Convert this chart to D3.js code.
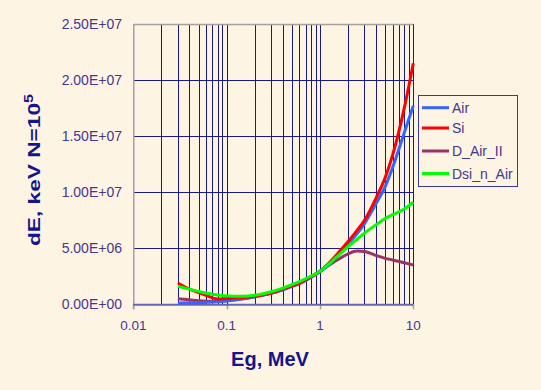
<!DOCTYPE html>
<html>
<head>
<meta charset="utf-8">
<script src="https://cdn.jsdelivr.net/npm/d3@7"></script>
<style>
  html, body { margin: 0; padding: 0; background: #FEF4E4; }
  svg { display: block; }
  text { font-family: Arial, "Liberation Sans", sans-serif; }
</style>
</head>
<body>
<svg id="chart" width="541" height="390"></svg>
<script>
// ---- data (values in keV, energies in MeV) ----
const energies = [0.03, 0.04, 0.05, 0.06, 0.08, 0.1, 0.15, 0.2, 0.3, 0.4, 0.5, 0.6, 0.8, 1, 1.5, 2, 2.5, 3, 4, 5, 6, 8, 10];
const airValues = [0.12e6, 0.13e6, 0.15e6, 0.17e6, 0.22e6, 0.3e6, 0.5e6, 0.68e6, 0.98e6, 1.3e6, 1.6e6, 1.85e6, 2.4e6, 2.9e6, 4.2e6, 5.4e6, 6.3e6, 7.2e6, 9.0e6, 10.5e6, 12.2e6, 15.3e6, 17.7e6];
const siValues = [1.9e6, 1.35e6, 1.05e6, 0.8e6, 0.48e6, 0.52e6, 0.6e6, 0.72e6, 1.0e6, 1.35e6, 1.65e6, 1.85e6, 2.45e6, 2.95e6, 4.4e6, 5.6e6, 6.6e6, 7.5e6, 9.5e6, 11.3e6, 13.3e6, 17.5e6, 21.5e6];
const dAirValues = [0.5e6, 0.4e6, 0.32e6, 0.28e6, 0.27e6, 0.33e6, 0.5e6, 0.68e6, 1.0e6, 1.32e6, 1.62e6, 1.9e6, 2.45e6, 2.95e6, 3.9e6, 4.5e6, 4.75e6, 4.7e6, 4.35e6, 4.1e6, 3.95e6, 3.7e6, 3.5e6];
const dsiValues = [1.6e6, 1.35e6, 1.15e6, 1.0e6, 0.82e6, 0.75e6, 0.72e6, 0.8e6, 1.12e6, 1.45e6, 1.75e6, 2.02e6, 2.5e6, 2.95e6, 4.2e6, 5.15e6, 5.8e6, 6.35e6, 7.1e6, 7.65e6, 8.0e6, 8.5e6, 9.1e6];
const seriesNames = ["Air", "Si", "D_Air_II", "Dsi_n_Air"];
const seriesColors = ["#3366FF", "#FF0000", "#993366", "#00FF00"];
const yTicks = [0, 5e6, 1e7, 1.5e7, 2e7, 2.5e7];
const yTickLabels = ["0.00E+00", "5.00E+06", "1.00E+07", "1.50E+07", "2.00E+07", "2.50E+07"];
const xTicks = [0.01, 0.1, 1, 10];
const xTickLabels = ["0.01", "0.1", "1", "10"];

const seriesValues = [airValues, siValues, dAirValues, dsiValues];
const drawOrder = [2, 0, 1, 3];

const svg = d3.select("#chart");
const W = 541, H = 390;
const pLeft = 133.3, pRight = 413.3, pTop = 24, pBottom = 304.3;

svg.append("rect").attr("width", W).attr("height", H).attr("fill", "#FEF4E4");

const x = d3.scaleLog().domain([0.01, 10]).range([pLeft, pRight]);
const y = d3.scaleLinear().domain([0, 2.5e7]).range([pBottom, pTop]);

const gridColor = "#1A1A86";
const vLines = [];
[0.01, 0.1, 1].forEach(d => { for (let k = 1; k <= 9; k++) vLines.push(d * k); });
vLines.push(10);
svg.append("g").selectAll("line").data(vLines.filter(v => v > 0.0100001)).join("line")
  .attr("x1", d => Math.round(x(d)) + 0.5).attr("x2", d => Math.round(x(d)) + 0.5)
  .attr("y1", pTop).attr("y2", pBottom)
  .attr("stroke", gridColor).attr("stroke-width", 1);

svg.append("g").selectAll("line").data(yTicks.filter(v => v > 0 && v < 2.5e7)).join("line")
  .attr("x1", pLeft).attr("x2", pRight)
  .attr("y1", d => Math.round(y(d)) + 0.5).attr("y2", d => Math.round(y(d)) + 0.5)
  .attr("stroke", gridColor).attr("stroke-width", 1);

svg.append("line").attr("x1", pLeft).attr("x2", pRight).attr("y1", pTop + 0.5).attr("y2", pTop + 0.5)
  .attr("stroke", "#A0A0A0").attr("stroke-width", 1.5);
svg.append("line").attr("x1", pLeft + 0.5).attr("x2", pLeft + 0.5).attr("y1", pTop).attr("y2", pBottom + 5)
  .attr("stroke", "#A0A0A0").attr("stroke-width", 1.5);

svg.append("g").selectAll("line").data(xTicks).join("line")
  .attr("x1", d => Math.round(x(d)) + 0.5).attr("x2", d => Math.round(x(d)) + 0.5)
  .attr("y1", pBottom).attr("y2", pBottom + 5)
  .attr("stroke", "#A0A0A0").attr("stroke-width", 1.5);

svg.append("line").attr("x1", pLeft).attr("x2", pRight).attr("y1", pBottom + 0.5).attr("y2", pBottom + 0.5)
  .attr("stroke", "#6464B4").attr("stroke-width", 2);

const line = d3.line().curve(d3.curveMonotoneX);
drawOrder.forEach(i => {
  const pts = energies.map((e, j) => [x(e), y(seriesValues[i][j])]);
  svg.append("path").attr("d", line(pts)).attr("fill", "none")
    .attr("stroke", seriesColors[i]).attr("stroke-width", 3)
    .attr("stroke-linejoin", "round").attr("stroke-linecap", "butt");
});

const labelColor = "#44378F";
svg.append("g").selectAll("text").data(yTicks).join("text")
  .attr("x", 122).attr("y", d => y(d)).attr("dy", "0.36em")
  .attr("text-anchor", "end").attr("font-size", 14).attr("fill", labelColor)
  .text((d, i) => yTickLabels[i]);

svg.append("g").selectAll("text").data(xTicks).join("text")
  .attr("x", d => x(d)).attr("y", 329.5)
  .attr("text-anchor", "middle").attr("font-size", 13.5).attr("fill", labelColor)
  .text((d, i) => xTickLabels[i]);

const titleColor = "#14148C";
svg.append("text").attr("x", 270).attr("y", 366)
  .attr("text-anchor", "middle").attr("font-size", 20).attr("font-weight", "bold")
  .attr("fill", titleColor).text("Eg, MeV");

const yt = svg.append("text")
  .attr("transform", "translate(40,170) rotate(-90)")
  .attr("text-anchor", "middle").attr("font-size", 17).attr("font-weight", "bold")
  .attr("fill", titleColor)
  .attr("textLength", 152).attr("lengthAdjust", "spacingAndGlyphs");
yt.append("tspan").text("dE, keV N=10");
yt.append("tspan").attr("font-size", 12).attr("dy", -7).text("5");

const lg = svg.append("g");
lg.append("rect").attr("x", 418.5).attr("y", 95.5).attr("width", 99).attr("height", 91)
  .attr("fill", "none").attr("stroke", "#3A3A96").attr("stroke-width", 1);
const legY = [107.7, 128, 151, 173.5];
seriesNames.forEach((n, i) => {
  lg.append("line").attr("x1", 422).attr("x2", 449).attr("y1", legY[i]).attr("y2", legY[i])
    .attr("stroke", seriesColors[i]).attr("stroke-width", 3);
  lg.append("text").attr("x", 452).attr("y", legY[i]).attr("dy", "0.36em")
    .attr("font-size", 14).attr("fill", labelColor).text(n);
});
</script>
</body>
</html>
